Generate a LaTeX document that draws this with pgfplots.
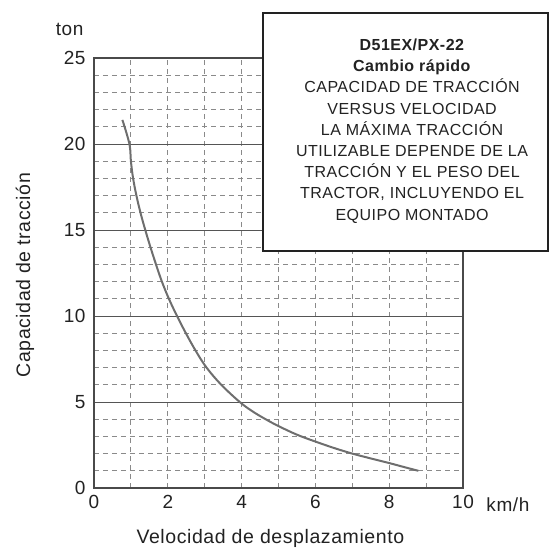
\documentclass[border=0pt]{standalone}
\usepackage{fontspec}
\setmainfont{Liberation Sans}[LetterSpace=3]
\usepackage{pgfplots}
\pgfplotsset{compat=1.18}
\definecolor{axc}{HTML}{4A4A4A}
\definecolor{gridc}{HTML}{555555}
\definecolor{dashc}{HTML}{8A8A8A}
\definecolor{curvec}{HTML}{6E6E6E}
\definecolor{txt}{HTML}{222222}
\begin{document}
\begin{tikzpicture}
\begin{axis}[name=ax,
 scale only axis, width=369pt, height=430pt,
 xmin=0, xmax=10, ymin=0, ymax=25,
 xtick={0,2,...,10}, ytick={0,5,...,25},
 minor x tick num=1, minor y tick num=4,
 grid=both,
 major x grid style={dashc, line width=0.8pt, dash pattern=on 5pt off 4pt},
 minor x grid style={dashc, line width=0.8pt, dash pattern=on 5pt off 4pt},
 major y grid style={gridc, line width=1pt, solid},
 minor y grid style={dashc, line width=0.8pt, dash pattern=on 5pt off 4pt},
 axis line style={axc, line width=1.6pt},
 major tick length=0pt, minor tick length=0pt,
 /pgf/number format/assume math mode=true,
 ticklabel style={font=\fontsize{19}{21}\selectfont, text=txt},
 xticklabel style={yshift=-4pt},
 yticklabel style={xshift=-5pt},
 xlabel={Velocidad de desplazamiento},
 xlabel style={at={(rel axis cs:0.478,-0.130)}, anchor=base, font=\fontsize{19.5}{21}\selectfont, text=txt},
 ylabel={Capacidad de tracción},
 ylabel style={at={(rel axis cs:-0.173,0.495)}, anchor=base, rotate=0, font=\fontsize{19.5}{21}\selectfont, text=txt},
 clip=false,
]
\addplot[curvec, line width=2pt, smooth, tension=0.6] coordinates {
(0.77,21.4) (0.96,20) (1.00,19) (1.06,18) (1.15,17) (1.26,16) (1.39,15)
(1.53,14) (1.68,13) (1.84,12) (2.03,11) (2.25,10) (2.49,9) (2.75,8)
(3.05,7) (3.45,6) (3.95,5) (4.3,4.45) (4.65,4.0) (5.0,3.6) (5.5,3.1)
(6.0,2.7) (6.5,2.33) (7.0,2.0) (7.5,1.72) (8.0,1.45) (8.4,1.22) (8.79,1.0)
};
\draw[fill=white, draw=txt, line width=2.2pt] (rel axis cs:0.458,0.551) rectangle (rel axis cs:1.230,1.105);
\node[align=center, font=\fontsize{16}{21.2}\selectfont, text=txt] at (rel axis cs:0.862,0.830)
{\textbf{D51EX/PX-22}\\\textbf{Cambio rápido}\\CAPACIDAD DE TRACCIÓN\\VERSUS VELOCIDAD\\LA MÁXIMA TRACCIÓN\\UTILIZABLE DEPENDE DE LA\\TRACCIÓN Y EL PESO DEL\\TRACTOR, INCLUYENDO EL\\EQUIPO MONTADO};
\node[anchor=base, font=\fontsize{19}{21}\selectfont, text=txt] at (rel axis cs:-0.066,1.053) {ton};
\node[anchor=base west, font=\fontsize{19}{21}\selectfont, text=txt] at (rel axis cs:1.054,-0.055) {km/h};
\end{axis}
\pgfresetboundingbox
\path[use as bounding box] ([shift={(-94pt,-61pt)}]ax.south west) rectangle ([shift={(88pt,58pt)}]ax.north east);
\end{tikzpicture}
\end{document}
